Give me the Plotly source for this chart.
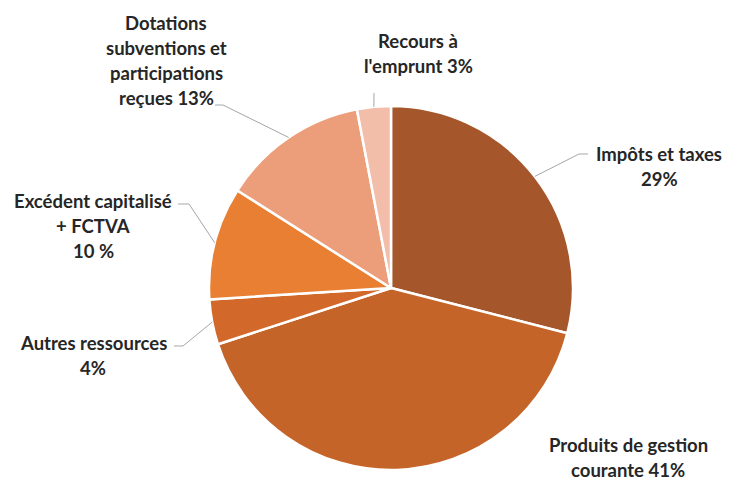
import math
import plotly.graph_objects as go

# ---- data ----
categories = ["Impôts et taxes", "Produits de gestion courante", "Autres ressources",
              "Excédent capitalisé + FCTVA", "Dotations subventions et participations reçues",
              "Recours à l'emprunt"]
values = [29, 41, 4, 10, 13, 3]
label_lines = [
    ["Impôts et taxes", "29%"],
    ["Produits de gestion", "courante 41%"],
    ["Autres ressources", "4%"],
    ["Excédent capitalisé", "+ FCTVA", "10 %"],
    ["Dotations", "subventions et", "participations", "reçues 13%"],
    ["Recours à", "l'emprunt 3%"],
]
colors = ["#A5562A", "#C46428", "#D2692B", "#E97F33", "#EC9E7A", "#F3BEA9"]

# ---- layout (page pixels; page body has an 8px margin) ----
OFF = 8
W, H = 732 - OFF, 480 - OFF
CX, CY, R = 391, 288, 182
label_pos = [(659, 154), (628, 445), (93, 343), (93, 201), (166, 23), (418, 41)]
line_step = 25
leader_pts = [
    [(579, 154), (588, 154)],
    None,
    [(183, 346), (174, 346)],
    [(189, 204), (178, 204)],
    [(223, 105), (215, 105)],
    [(374, 93)],
]

def px(x):
    return (x - OFF) / W

def py(y):
    return 1 - (y - OFF) / H

fig = go.Figure(go.Pie(
    labels=categories, values=values, sort=False, direction="clockwise",
    rotation=0, textinfo="none", hoverinfo="label+percent",
    marker=dict(colors=colors, line=dict(color="white", width=2.5)),
    domain=dict(x=[px(CX - R), px(CX + R)], y=[py(CY + R), py(CY - R)]),
    showlegend=False,
))

annotations = []
shapes = []
total = sum(values)
cum = 0
for i, v in enumerate(values):
    mid = (cum + v / 2) / total * 2 * math.pi
    cum += v
    sx = CX + R * math.sin(mid)
    sy = CY - R * math.cos(mid)
    if leader_pts[i]:
        pts = [(sx, sy)] + leader_pts[i]
        path = "M " + " L ".join(f"{px(a):.5f},{py(b):.5f}" for a, b in pts)
        shapes.append(dict(type="path", path=path, xref="paper", yref="paper",
                           line=dict(color="#A6A6A6", width=1)))
    lx, ly = label_pos[i]
    for k, t in enumerate(label_lines[i]):
        annotations.append(dict(
            text=f"<b>{t}</b>", x=px(lx), y=py(ly + k * line_step),
            xref="paper", yref="paper", xanchor="center", yanchor="middle",
            showarrow=False, font=dict(family="Lato", size=18.5, color="#262626")))

fig.update_layout(
    width=W, height=H, autosize=False,
    margin=dict(l=0, r=0, t=0, b=0),
    paper_bgcolor="white", plot_bgcolor="white",
    annotations=annotations, shapes=shapes,
)
fig.write_html("out.html")
